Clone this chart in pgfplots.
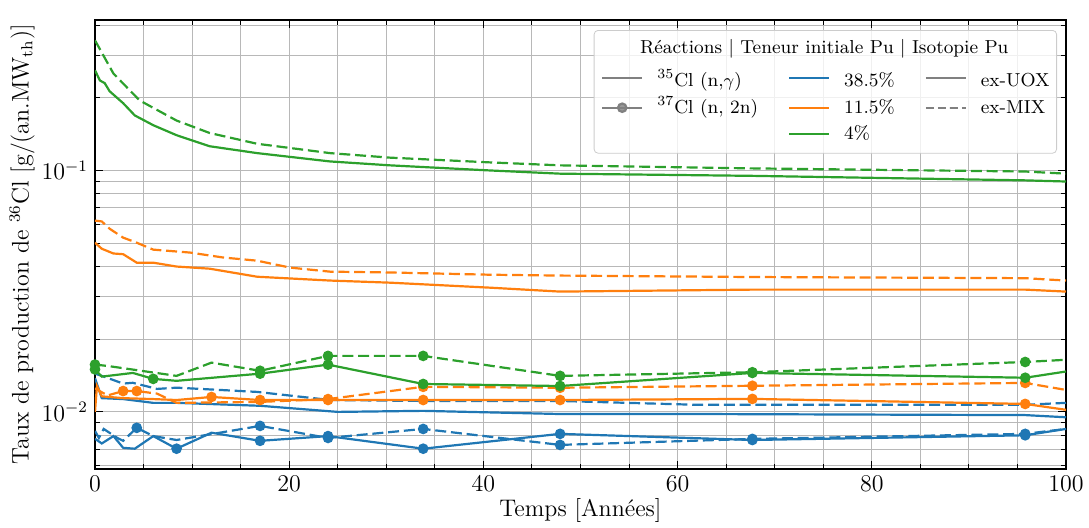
\documentclass[border=0pt]{standalone}
\usepackage{pgfplots}
\pgfplotsset{compat=1.18}
\definecolor{tabblue}{HTML}{1F77B4}
\definecolor{taborange}{HTML}{FF7F0E}
\definecolor{tabgreen}{HTML}{2CA02C}
\definecolor{leggray}{HTML}{808080}
\newcommand{\ra}{\rule{0pt}{12.6pt}}
\newcommand{\rb}{\rule{0pt}{9.6pt}}
\newcommand{\rc}{\rule{0pt}{9.1pt}}
\begin{document}
\begin{tikzpicture}
\begin{axis}[
 scale only axis, width=485.5pt, height=224.5pt,
 ymode=log, xmin=0, xmax=100, ymin=0.0058, ymax=0.42,
 xtick={0,20,...,100}, minor x tick num=3,
 grid=both,
 major grid style={draw=black!28, line width=0.5pt},
 minor grid style={draw=black!28, line width=0.5pt},
 tick align=inside, xtick pos=both, ytick pos=both,
 major tick length=4pt, minor tick length=2.4pt,
 every tick/.style={black, line width=0.5pt},
 axis line style={line width=0.8pt},
 tick label style={font=\fontsize{11.7}{14}\selectfont},
 label style={font=\fontsize{12}{14}\selectfont},
 xlabel={Temps [Années]},
 ylabel={Taux de production de $^{36}$Cl [g/(an.MW$_{\mathrm{th}}$)]},
 xlabel style={at={(axis description cs:0.5,-0.0913)}, anchor=center},
 ylabel style={at={(axis description cs:-0.075,0.5)}, anchor=center},
 legend columns=3,
 legend cell align=left,
 legend image code/.code={\draw[mark repeat=2,mark phase=2] plot coordinates {(0pt,0pt) (10pt,0pt) (20pt,0pt)};},
 legend style={at={(1,1)}, anchor=north east, xshift=-4.5pt, yshift=-5pt,
   draw=black!20, rounded corners=2pt, fill=white, fill opacity=0.8, text opacity=1,
   font=\fontsize{9.4}{11}\selectfont, inner xsep=3.5pt, inner ysep=3pt,
   nodes={inner sep=0pt, text depth=3.9pt}, row sep=0pt,
   /tikz/every odd column/.append style={column sep=7pt},
   /tikz/every even column/.append style={column sep=15pt}},
]
% (n,gamma) ex-UOX / ex-MIX
\addplot[forget plot, tabblue, line width=1.1pt] coordinates {(0,0.0138)(0.7,0.0114)(2.9,0.0113)(6,0.0109)(8.4,0.0109)(17,0.0106)(25,0.0100)(33.8,0.0101)(47.9,0.0098)(62,0.0098)(95.8,0.0097)(100,0.0095)};
\addplot[forget plot, tabblue, line width=1.1pt, dash pattern=on 5.5pt off 2.4pt] coordinates {(0,0.0144)(0.7,0.0141)(2.9,0.0131)(3.9,0.0132)(6.4,0.01245)(8.4,0.0126)(16.7,0.0121)(24.2,0.0112)(33.8,0.0111)(47.9,0.0111)(62,0.0107)(95.8,0.0107)(100,0.0109)};
\addplot[forget plot, taborange, line width=1.1pt] coordinates {(0,0.0502)(0.7,0.0474)(1.9,0.0453)(2.9,0.045)(4.3,0.0415)(6,0.0415)(8.4,0.040)(11.8,0.0392)(16.7,0.0363)(24.2,0.035)(30.4,0.0343)(40.7,0.0327)(47.9,0.0315)(67.7,0.0321)(95.8,0.0321)(100,0.0315)};
\addplot[forget plot, taborange, line width=1.1pt, dash pattern=on 5.5pt off 2.4pt] coordinates {(0,0.062)(0.7,0.0615)(1.5,0.0574)(2.9,0.0527)(4.3,0.0502)(6,0.047)(9.8,0.0457)(13.2,0.0436)(16.7,0.0423)(20.1,0.0396)(24.2,0.0381)(30.4,0.0378)(40.7,0.037)(47.9,0.0367)(67.7,0.0362)(95.8,0.0358)(100,0.035)};
\addplot[forget plot, tabgreen, line width=1.1pt] coordinates {(0,0.26)(0.5,0.236)(1,0.230)(1.5,0.213)(2.9,0.190)(4.1,0.169)(6,0.154)(8.4,0.140)(11.8,0.126)(16.7,0.118)(24.2,0.109)(30.4,0.105)(40.7,0.100)(47.9,0.097)(67.7,0.095)(95.8,0.091)(100,0.090)};
\addplot[forget plot, tabgreen, line width=1.1pt, dash pattern=on 5.5pt off 2.4pt] coordinates {(0,0.346)(1.9,0.252)(4.6,0.195)(8.4,0.161)(11.8,0.143)(16.7,0.129)(24.2,0.118)(30.4,0.113)(40.7,0.108)(47.9,0.105)(67.7,0.102)(95.8,0.099)(100,0.097)};
% (n,2n) ex-UOX / ex-MIX
\addplot[forget plot, tabblue, line width=1.1pt, mark=*, mark size=2.1pt, mark options={solid}, mark indices={7,9,10,11,12,13,14}] coordinates {(0,0.00774)(0.7,0.0074)(1.9,0.00794)(2.9,0.0071)(4.1,0.00704)(6,0.00794)(8.4,0.00704)(12,0.0082)(17,0.00759)(24,0.00794)(33.8,0.00704)(47.9,0.00811)(67.7,0.00765)(95.8,0.0080)(100,0.0085)};
\addplot[forget plot, tabblue, line width=1.1pt, dash pattern=on 5.5pt off 2.4pt, mark=*, mark size=2.1pt, mark options={solid}, mark indices={6,9,10,11,12,13,14}] coordinates {(0,0.00834)(0.4,0.0078)(0.9,0.0085)(2.3,0.0078)(2.9,0.00759)(4.3,0.00859)(6,0.00794)(8.4,0.00765)(17,0.00875)(24,0.0078)(33.8,0.0085)(47.9,0.0073)(67.7,0.00773)(95.8,0.00811)(100,0.0085)};
\addplot[forget plot, taborange, line width=1.1pt, mark=*, mark size=2.1pt, mark options={solid}, mark indices={7,8,9,10,11,12,13}] coordinates {(0,0.0100)(0.2,0.0128)(0.7,0.0116)(2.9,0.0114)(6,0.0113)(8.4,0.0112)(12,0.01153)(17,0.0112)(24,0.0112)(33.8,0.0112)(47.9,0.0112)(67.7,0.01132)(95.8,0.01079)(100,0.0102)};
\addplot[forget plot, taborange, line width=1.1pt, dash pattern=on 5.5pt off 2.4pt, mark=*, mark size=2.1pt, mark options={solid}, mark indices={3,4,8,9,10,11,12}] coordinates {(0,0.0125)(1.3,0.0117)(2.9,0.0122)(4.3,0.0122)(6.4,0.0119)(8.4,0.0109)(17,0.0110)(24,0.0113)(33.8,0.0127)(47.9,0.01259)(67.7,0.01283)(95.8,0.01318)(100,0.01233)};
\addplot[forget plot, tabgreen, line width=1.1pt, mark=*, mark size=2.1pt, mark options={solid}, mark indices={1,4,6,7,8,9,10,11}] coordinates {(0,0.0150)(0.7,0.0140)(3.9,0.0145)(6,0.0137)(8.4,0.01345)(17,0.0144)(24,0.0157)(33.8,0.01305)(47.9,0.0128)(67.7,0.0145)(95.8,0.01385)(100,0.0147)};
\addplot[forget plot, tabgreen, line width=1.1pt, dash pattern=on 5.5pt off 2.4pt, mark=*, mark size=2.1pt, mark options={solid}, mark indices={1,5,6,7,8,9,10}] coordinates {(0,0.0157)(1.3,0.0155)(8.4,0.0141)(12,0.0160)(17,0.0148)(24,0.01706)(33.8,0.01706)(47.9,0.0141)(67.7,0.0146)(95.8,0.0161)(100,0.01644)};
% legend
\addlegendimage{empty legend}
\addlegendentry{\makebox[0pt][l]{\makebox[166pt][c]{\rule{0pt}{8.5pt}Réactions | Teneur initiale Pu | Isotopie Pu}}}
\addlegendimage{empty legend}\addlegendentry{}
\addlegendimage{empty legend}\addlegendentry{}
\addlegendimage{leggray, line width=1.1pt}
\addlegendentry{\ra$^{35}$Cl (n,$\gamma$)}
\addlegendimage{tabblue, line width=1.1pt}
\addlegendentry{\ra38.5\%}
\addlegendimage{leggray, line width=1.1pt}
\addlegendentry{\ra ex-UOX}
\addlegendimage{leggray, line width=1.1pt, mark=*, mark size=2.1pt}
\addlegendentry{\rb$^{37}$Cl (n, 2n)}
\addlegendimage{taborange, line width=1.1pt}
\addlegendentry{\rb11.5\%}
\addlegendimage{leggray, line width=1.1pt, dash pattern=on 4pt off 2pt}
\addlegendentry{\rb ex-MIX}
\addlegendimage{empty legend}\addlegendentry{}
\addlegendimage{tabgreen, line width=1.1pt}
\addlegendentry{\rc4\%}
\addlegendimage{empty legend}\addlegendentry{}
\end{axis}
\pgfresetboundingbox
\path[use as bounding box] (current axis.south west) ++(-47.5pt,-29pt) rectangle ([shift={(11.5pt,10pt)}]current axis.north east);
\end{tikzpicture}
\end{document}
